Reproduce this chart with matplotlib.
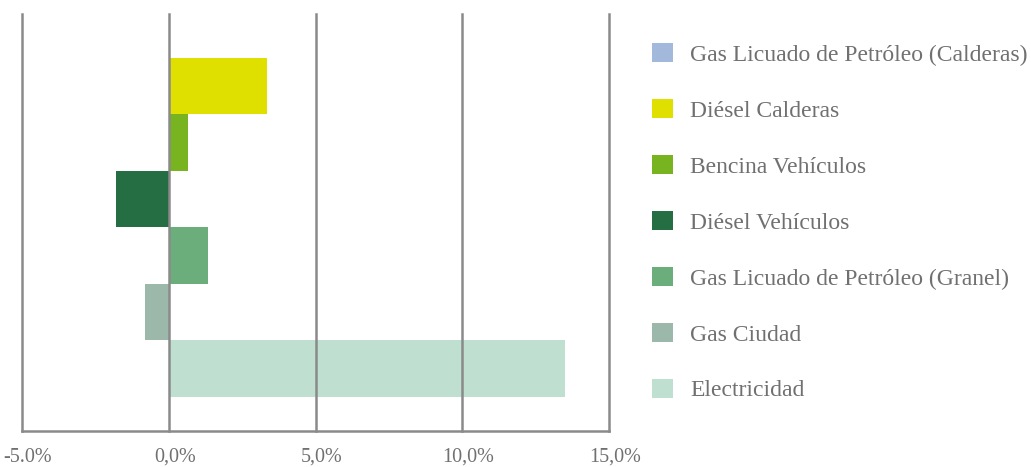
import matplotlib.pyplot as plt
import matplotlib.transforms as mtransforms
from matplotlib.patches import Patch
from matplotlib.ticker import FixedLocator

# ===============================
# DATA
# ===============================

categories = [
    "Gas Licuado de Petróleo (Calderas)",
    "Diésel Calderas",
    "Bencina Vehículos",
    "Diésel Vehículos",
    "Gas Licuado de Petróleo (Granel)",
    "Gas Ciudad",
    "Electricidad",
]
values = [0.0, 3.35, 0.65, -1.8, 1.35, -0.8, 13.5]
colors = ["#a3b9db", "#dfdf00", "#78b41f", "#256d42", "#6bae7b", "#9bb8ab", "#bfe0d0"]

xticks = [-5, 0, 5, 10, 15]
xticklabels = ["-5.0%", "0,0%", "5,0%", "10,0%", "15,0%"]

# ===============================
# PLOT
# ===============================

plt.rcParams["font.family"] = ["Liberation Serif", "DejaVu Serif"]
text_color = "#707070"
line_color = "#8a8a8a"

fig = plt.figure(figsize=(10.31, 4.67), dpi=100)
ax = fig.add_axes([22 / 1031, 36 / 467, 587 / 1031, 417 / 467])

pos = list(range(len(categories)))
ax.barh(pos, values, height=1.0, color=colors, zorder=2)

ax.set_xlim(-5, 15)
ax.set_ylim(7.1, -0.27)
ax.xaxis.set_major_locator(FixedLocator(xticks))
ax.set_xticklabels(xticklabels, fontsize=14.5, color=text_color)
ax.tick_params(axis="x", length=0, pad=12)
ax.set_yticks([])
# labels sit a little to the right of their gridline
shift = mtransforms.ScaledTranslation(6 / 100, 0, fig.dpi_scale_trans)
for lab in ax.get_xticklabels():
    lab.set_transform(lab.get_transform() + shift)

ax.grid(axis="x", color=line_color, linewidth=1.8, zorder=3)
ax.set_axisbelow(False)
for gl in ax.get_xgridlines():
    gl.set_clip_on(False)
for s in ["top", "left", "right"]:
    ax.spines[s].set_visible(False)
ax.spines["bottom"].set_color(line_color)
ax.spines["bottom"].set_linewidth(1.8)
ax.spines["bottom"].set_zorder(4)

handles = [Patch(facecolor=c, edgecolor="none") for c in colors]
fig.legend(handles, categories, loc="upper left",
           bbox_to_anchor=(652 / 1031, 1 - 43 / 467),
           frameon=False, fontsize=17, labelcolor=text_color,
           handlelength=0.89, handleheight=0.89, handletextpad=0.72,
           labelspacing=1.40, borderpad=0, borderaxespad=0)

plt.savefig("out.png", dpi=100)
